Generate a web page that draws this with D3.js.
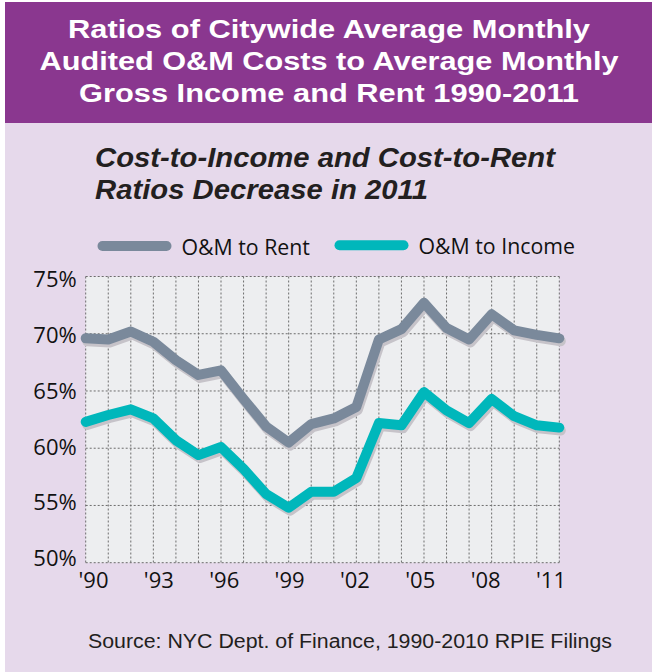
<!DOCTYPE html>
<html>
<head>
<meta charset="utf-8">
<script src="https://cdn.jsdelivr.net/npm/d3@7"></script>
<style>
  body { margin: 0; background: #fff; }
  svg { display: block; }
</style>
</head>
<body>
<div id="chart"></div>
<script>
// data
const years = d3.range(1990, 2012);
const rentRatio = [69.6, 69.5, 70.2, 69.3, 67.7, 66.4, 66.8, 64.3, 61.9, 60.5, 62.1,
    62.6, 63.6, 69.5, 70.4, 72.7, 70.5, 69.5, 71.7, 70.3, 69.9, 69.6];
const incomeRatio = [62.3, 62.9, 63.4, 62.6, 60.7, 59.4, 60.1, 58.2, 56.0, 54.8, 56.2,
    56.2, 57.4, 62.2, 62.0, 64.9, 63.3, 62.2, 64.3, 62.8, 62.0, 61.8];
const yTicks = [50, 55, 60, 65, 70, 75];
const xTickYears = [1990, 1993, 1996, 1999, 2002, 2005, 2008, 2011];
const titleLines = ["Ratios of Citywide Average Monthly",
    "Audited O&M Costs to Average Monthly",
    "Gross Income and Rent 1990-2011"];
const subtitleLines = ["Cost-to-Income and Cost-to-Rent", "Ratios Decrease in 2011"];
const seriesNames = ["O&M to Rent", "O&M to Income"];
const source = "Source: NYC Dept. of Finance, 1990-2010 RPIE Filings";

const W = 652, H = 672;
const colors = { rent: "#7a899b", income: "#00b7bb", shadow: "#c6c3c9" };

const svg = d3.select("#chart").append("svg")
    .attr("width", W)
    .attr("height", H);

// panel background
svg.append("rect").attr("x", 5).attr("y", 2).attr("width", W - 5).attr("height", H - 2)
    .attr("fill", "#e6d9eb");
svg.append("rect").attr("x", 5).attr("y", 2).attr("width", W - 5).attr("height", 121)
    .attr("fill", "#8a378f");

// header title
const titleWidths = [522, 579, 500];
svg.append("g").selectAll("text")
    .data(titleLines)
    .join("text")
    .attr("x", 329)
    .attr("y", (d, i) => 38 + i * 31.8)
    .attr("text-anchor", "middle")
    .attr("textLength", (d, i) => titleWidths[i])
    .attr("lengthAdjust", "spacingAndGlyphs")
    .attr("font-family", "'Liberation Sans', Arial, sans-serif")
    .attr("font-weight", "bold")
    .attr("font-size", 26)
    .attr("fill", "#fff")
    .text(d => d);

// subtitle
const subWidths = [460, 333];
svg.append("g").selectAll("text")
    .data(subtitleLines)
    .join("text")
    .attr("x", 95)
    .attr("y", (d, i) => 167 + i * 32)
    .attr("textLength", (d, i) => subWidths[i])
    .attr("lengthAdjust", "spacingAndGlyphs")
    .attr("font-family", "'Liberation Sans', Arial, sans-serif")
    .attr("font-weight", "bold")
    .attr("font-style", "italic")
    .attr("font-size", 27.5)
    .attr("fill", "#231f20")
    .text(d => d);

// plot area
const margin = { top: 276.5, left: 85.7, right: W - 559.3, bottom: H - 562.7 };
const x = d3.scaleLinear().domain([1990, 2011]).range([margin.left, W - margin.right]);
const y = d3.scaleLinear().domain([50, 75]).range([H - margin.bottom, margin.top]);
// tick labels sit on their own slightly tighter spacing in the original
const xLabel = d3.scaleLinear().domain([1990, 2011]).range([93, 550.5]);
const yLabel = d3.scaleLinear().domain([50, 75]).range([557.5, 279]);

svg.append("rect")
    .attr("x", x(1990)).attr("y", y(75))
    .attr("width", x(2011) - x(1990)).attr("height", y(50) - y(75))
    .attr("fill", "#edeef0");

const grid = svg.append("g")
    .attr("stroke", "#6d6d6d")
    .attr("stroke-width", 1)
    .attr("stroke-dasharray", "2,2");
grid.selectAll(".vgrid")
    .data(years)
    .join("line")
    .attr("class", "vgrid")
    .attr("x1", d => x(d)).attr("x2", d => x(d))
    .attr("y1", y(75)).attr("y2", y(50));
grid.selectAll(".hgrid")
    .data(yTicks)
    .join("line")
    .attr("class", "hgrid")
    .attr("x1", x(1990)).attr("x2", x(2011))
    .attr("y1", d => y(d)).attr("y2", d => y(d));

// axes (labels only)
const yAxis = d3.axisLeft(yLabel)
    .tickValues(yTicks)
    .tickSize(0)
    .tickPadding(9)
    .tickFormat(d => d + "%");
svg.append("g")
    .attr("class", "y-axis")
    .attr("transform", `translate(${margin.left},0)`)
    .call(yAxis)
    .call(g => g.select(".domain").remove());

const xAxis = d3.axisBottom(xLabel)
    .tickValues(xTickYears)
    .tickSize(0)
    .tickPadding(9)
    .tickFormat(d => "'" + String(d).slice(2));
svg.append("g")
    .attr("class", "x-axis")
    .attr("transform", `translate(0,${H - margin.bottom})`)
    .call(xAxis)
    .call(g => g.select(".domain").remove());

svg.selectAll(".x-axis text, .y-axis text")
    .attr("font-family", "'Open Sans', 'Noto Sans', sans-serif")
    .attr("font-size", 22)
    .attr("fill", "#111");
svg.selectAll(".y-axis text").attr("dy", "0.36em");
svg.selectAll(".x-axis text").attr("dy", "0.72em");

// lines
const line = d3.line()
    .x((d, i) => x(years[i]))
    .y(d => y(d));

const series = [
    { key: seriesNames[0], values: rentRatio, color: colors.rent },
    { key: seriesNames[1], values: incomeRatio, color: colors.income }
];

const lines = svg.append("g");
series.forEach(s => {
    lines.append("path")
        .attr("d", line(s.values))
        .attr("transform", "translate(1.5,3)")
        .attr("fill", "none")
        .attr("stroke", colors.shadow)
        .attr("stroke-width", 10)
        .attr("stroke-linejoin", "round")
        .attr("stroke-linecap", "round");
    lines.append("path")
        .attr("d", line(s.values))
        .attr("fill", "none")
        .attr("stroke", s.color)
        .attr("stroke-width", 10)
        .attr("stroke-linejoin", "round")
        .attr("stroke-linecap", "round");
});

// legend
const legendX = [97.5, 334.5];
const legend = svg.append("g").selectAll("g")
    .data(series)
    .join("g")
    .attr("transform", (d, i) => `translate(${legendX[i]},${246 - i * 0.8})`);
legend.append("line")
    .attr("x1", 5).attr("x2", 69)
    .attr("stroke", d => d.color)
    .attr("stroke-width", 10)
    .attr("stroke-linecap", "round");
legend.append("text")
    .attr("x", 84)
    .attr("y", 8.5)
    .attr("font-family", "'Open Sans', 'Noto Sans', sans-serif")
    .attr("font-size", 21.3)
    .attr("fill", "#111")
    .text(d => d.key);

// source
svg.append("text")
    .attr("x", 88)
    .attr("y", 648)
    .attr("textLength", 524)
    .attr("lengthAdjust", "spacingAndGlyphs")
    .attr("font-family", "'Liberation Sans', Arial, sans-serif")
    .attr("font-size", 19.5)
    .attr("fill", "#231f20")
    .text(source);
</script>
</body>
</html>
